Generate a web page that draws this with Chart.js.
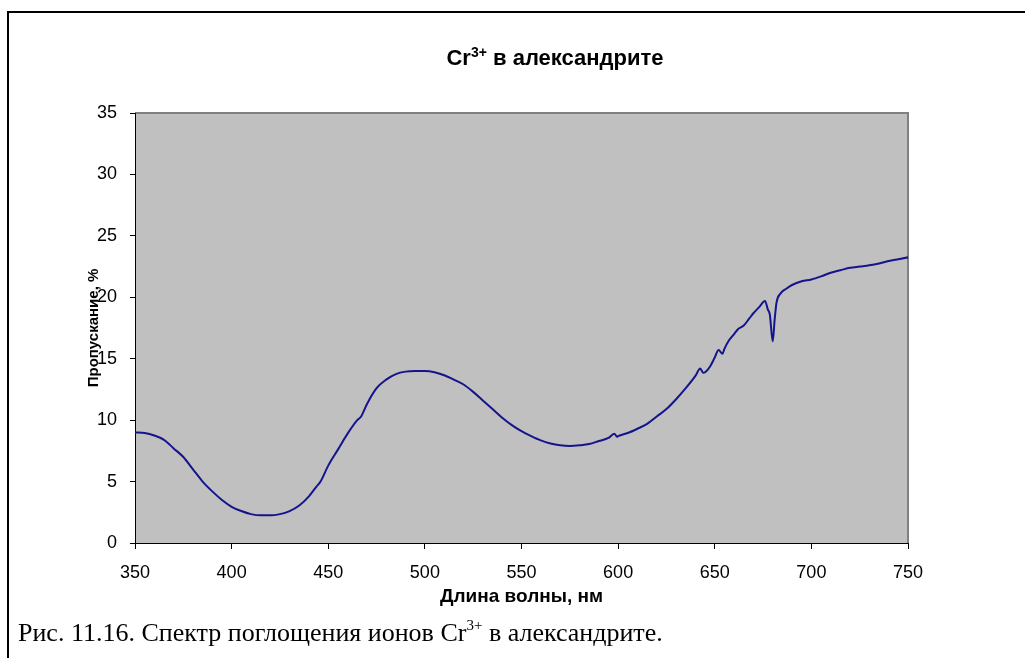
<!DOCTYPE html>
<html>
<head>
<meta charset="utf-8">
<script src="https://cdn.jsdelivr.net/npm/chart.js@4.4.1/dist/chart.umd.min.js"></script>
<style>
  html, body { margin: 0; padding: 0; background: #fff; }
  body { width: 1025px; height: 658px; position: relative; overflow: hidden; font-family: "Liberation Sans", Arial, sans-serif; }
  #frame { position: absolute; left: 7px; top: 11px; right: -5px; bottom: -5px; border-left: 2px solid #000; border-top: 2px solid #000; }
  #wrap { position: absolute; left: 0; top: 0; width: 1025px; height: 658px; }
  #title { position: absolute; left: 355px; width: 400px; top: 45px; text-align: center; font-weight: bold; font-size: 22px; color: #000; }
  #title sup { font-size: 14px; vertical-align: 8px; line-height: 0; }
  #caption { position: absolute; left: 18px; top: 618px; font-family: "Liberation Serif", "Times New Roman", serif; font-size: 26px; color: #000; white-space: nowrap; }
  #caption sup { font-size: 15px; vertical-align: 11px; line-height: 0; }
</style>
</head>
<body>
<div id="frame"></div>
<div id="wrap"><canvas id="spectrum-chart" width="1025" height="658"></canvas></div>
<div id="title">Cr<sup>3+</sup> в александрите</div>
<div id="caption">Рис. 11.16. Спектр поглощения ионов Cr<sup>3+</sup> в александрите.</div>
<script>
const spectrumChart = document.querySelector("#spectrum-chart");

// wavelength, nm
const wavelength = [
  350, 355, 360, 365, 370, 375, 380, 385, 390, 395,
  400, 405, 410, 415, 420, 425, 430, 435, 440, 443,
  444, 446, 450, 455, 460, 465, 467, 470, 475, 480,
  485, 490, 495, 500, 505, 510, 515, 520, 525, 530,
  535, 540, 545, 550, 555, 560, 565, 570, 575, 580,
  585, 590, 595, 598, 599.5, 600, 605, 610, 615, 620,
  625, 630, 635, 640, 642.5, 644, 645, 647.5, 650, 652,
  654, 655, 657, 660, 662, 665, 668, 670, 673, 676,
  677.5, 678.5, 680, 681, 682, 684, 687, 690, 695, 700,
  705, 710, 715, 720, 725, 730, 735, 740, 745, 750,
];

// transmission, %
const transmission = [
  9.0, 8.95, 8.75, 8.4, 7.7, 7.0, 6.0, 5.0, 4.2, 3.5,
  2.95, 2.6, 2.35, 2.25, 2.25, 2.35, 2.6, 3.05, 3.8, 4.4,
  4.6, 5.0, 6.3, 7.6, 8.9, 10.0, 10.3, 11.3, 12.6, 13.3,
  13.75, 13.95, 14.0, 14.0, 13.9, 13.65, 13.3, 12.9, 12.3, 11.6,
  10.9, 10.2, 9.6, 9.1, 8.7, 8.35, 8.1, 7.95, 7.9, 7.95,
  8.05, 8.3, 8.55, 8.9, 8.65, 8.7, 8.95, 9.3, 9.7, 10.3,
  10.9, 11.7, 12.6, 13.6, 14.2, 13.85, 13.9, 14.35, 15.1, 15.7,
  15.4, 15.8, 16.4, 17.0, 17.4, 17.7, 18.3, 18.7, 19.2, 19.7,
  19.0, 18.6, 16.4, 18.2, 19.6, 20.3, 20.7, 21.0, 21.3, 21.45,
  21.7, 22.0, 22.2, 22.4, 22.5, 22.6, 22.75, 22.95, 23.1, 23.25,
];

const xTicks = [350, 400, 450, 500, 550, 600, 650, 700, 750];
const yTicks = [0, 5, 10, 15, 20, 25, 30, 35];

const points = wavelength.map((w, i) => ({ x: w, y: transmission[i] }));

// gray plot area with a thin gray top/right edge
const plotBackground = {
  id: "plotBackground",
  beforeDraw(chart) {
    const { ctx, chartArea: a } = chart;
    ctx.save();
    ctx.fillStyle = "#c0c0c0";
    ctx.fillRect(a.left, a.top, a.right - a.left, a.bottom - a.top);
    ctx.strokeStyle = "#808080";
    ctx.lineWidth = 2;
    ctx.beginPath();
    ctx.moveTo(a.left, a.top);
    ctx.lineTo(a.right, a.top);
    ctx.lineTo(a.right, a.bottom);
    ctx.stroke();
    ctx.restore();
  },
};

new Chart(spectrumChart, {
  type: "line",
  data: {
    datasets: [
      {
        data: points,
        borderColor: "#14148c",
        borderWidth: 2,
        pointRadius: 0,
        fill: false,
        cubicInterpolationMode: "monotone",
      },
    ],
  },
  options: {
    responsive: false,
    animation: false,
    layout: { padding: { left: 85, top: 113, right: 117, bottom: 50 } },
    plugins: { legend: { display: false }, tooltip: { enabled: false } },
    scales: {
      x: {
        type: "linear",
        min: 350,
        max: 750,
        afterFit: (scale) => { scale.height = 65; },
        afterBuildTicks: (scale) => { scale.ticks = xTicks.map((v) => ({ value: v })); },
        ticks: { color: "#000", font: { family: "Liberation Sans", size: 18 }, padding: 13, maxRotation: 0 },
        grid: { drawOnChartArea: false, drawTicks: true, tickLength: 6, color: "#000" },
        border: { display: true, color: "#000", width: 1 },
        title: {
          display: true,
          text: "Длина волны, нм",
          color: "#000",
          font: { family: "Liberation Sans", size: 19, weight: "bold" },
          padding: 0,
        },
      },
      y: {
        min: 0,
        max: 35,
        afterFit: (scale) => { scale.width = 50; },
        afterBuildTicks: (scale) => { scale.ticks = yTicks.map((v) => ({ value: v })); },
        ticks: { color: "#000", font: { family: "Liberation Sans", size: 18 }, padding: 13 },
        grid: { drawOnChartArea: false, drawTicks: true, tickLength: 5, color: "#000" },
        border: { display: true, color: "#000", width: 1 },
        title: {
          display: true,
          text: "Пропускание, %",
          color: "#000",
          font: { family: "Liberation Sans", size: 15, weight: "bold" },
          padding: 0,
        },
      },
    },
  },
  plugins: [plotBackground],
});
</script>
</body>
</html>
